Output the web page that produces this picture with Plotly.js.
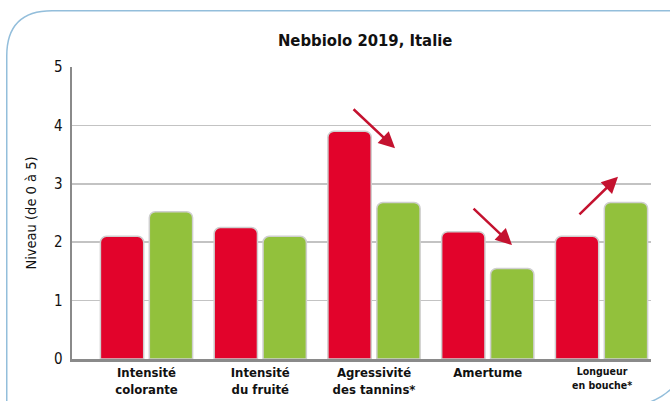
<!DOCTYPE html>
<html>
<head>
<meta charset="utf-8">
<script src="https://cdn.plot.ly/plotly-3.0.1.min.js"></script>
<style>
  html, body { margin: 0; padding: 0; background: #ffffff; overflow: hidden; }
  #chart { position: absolute; left: 0; top: 0; width: 670px; height: 401px; }
</style>
</head>
<body>
<div id="chart"></div>
<script>
const categories = [
  "<b>Intensité<br>colorante</b>",
  "<b>Intensité<br>du fruité</b>",
  "<b>Agressivité<br>des tannins*</b>",
  "<b>Amertume</b>",
  "<b>Longueur<br>en bouche*</b>"
];
const seriesRed = [2.1, 2.25, 3.9, 2.18, 2.1];
const seriesGreen = [2.52, 2.1, 2.68, 1.55, 2.68];
const yTicks = [0, 1, 2, 3, 4, 5];

const idx = categories.map((c, i) => i);
const FONT = "'Liberation Sans Narrow', 'DejaVu Sans Condensed', 'Arial Narrow', sans-serif";

const M = { l: 72, r: 19, t: 67, b: 42 };
const W = 670, H = 401;
const PW = W - M.l - M.r, PH = H - M.t - M.b;
// pixel -> paper helpers for the decorative page frame
const fx = (px) => ((px - M.l) / PW).toFixed(4);
const fy = (py) => (1 - (py - M.t) / PH).toFixed(4);

const framePath =
  'M ' + fx(6.75) + ',' + fy(420) +
  ' L ' + fx(6.75) + ',' + fy(56) +
  ' Q ' + fx(6.75) + ',' + fy(10.75) + ' ' + fx(52) + ',' + fy(10.75) +
  ' L ' + fx(700) + ',' + fy(10.75);
const cornerPath =
  'M ' + fx(640) + ',' + fy(405) +
  ' Q ' + fx(662) + ',' + fy(400) + ' ' + fx(676) + ',' + fy(384);

const barStyle = (color) => ({
  color: color,
  cornerradius: 6,
  line: { color: '#cfcfcf', width: 1.5 }
});

const traces = [
  { type: 'bar', x: idx, y: seriesRed, marker: barStyle('#e2032b'), hoverinfo: 'y', showlegend: false },
  { type: 'bar', x: idx, y: seriesGreen, marker: barStyle('#92c13c'), hoverinfo: 'y', showlegend: false }
];

const arrowColor = '#c4122f';
const arrows = [
  { tail: [1.807, 4.30], head: [2.185, 3.61] },
  { tail: [2.862, 2.60], head: [3.213, 1.95] },
  { tail: [3.793, 2.45], head: [4.145, 3.12] }
];

// the last category label is drawn smaller, as in the source
const lastIdx = categories.length - 1;
const tickText = categories.map((c, i) => i === lastIdx ? '' : c);

const annotations = arrows.map(a => ({
  x: a.head[0], y: a.head[1], ax: a.tail[0], ay: a.tail[1],
  xref: 'x', yref: 'y', axref: 'x', ayref: 'y',
  text: '', showarrow: true, arrowhead: 2, arrowsize: 1.3, arrowwidth: 2.5,
  arrowcolor: arrowColor
}));
annotations.push({
  x: lastIdx, y: 0, xref: 'x', yref: 'y', yshift: -4,
  xanchor: 'center', yanchor: 'top', showarrow: false,
  text: categories[lastIdx],
  font: { family: FONT, size: 10.5, color: '#111111' }
});

const layout = {
  width: W, height: H,
  margin: M,
  paper_bgcolor: '#ffffff',
  plot_bgcolor: 'rgba(0,0,0,0)',
  barmode: 'group',
  bargap: 0.14,
  bargroupgap: 0.115,
  font: { family: FONT, color: '#111111', size: 13 },
  title: {
    text: '<b>Nebbiolo 2019, Italie</b>',
    font: { family: FONT, size: 16.5, color: '#111111' },
    x: 0.545, xanchor: 'center', y: 0.9, yanchor: 'middle', yref: 'container'
  },
  xaxis: {
    range: [-0.655, 4.435],
    tickmode: 'array', tickvals: idx, ticktext: tickText,
    tickfont: { family: FONT, size: 13, color: '#111111' },
    showline: true, linecolor: '#8a8a8a', linewidth: 2.5,
    showgrid: false, zeroline: false, ticks: '', ticklen: 0
  },
  yaxis: {
    range: [0, 5],
    tickmode: 'array', tickvals: yTicks,
    tickfont: { family: FONT, size: 15, color: '#111111' },
    showline: true, linecolor: '#8a8a8a', linewidth: 2.5,
    showgrid: true, gridcolor: '#c3c3c3', gridwidth: 1.5,
    zeroline: false, ticks: '', ticklabelstandoff: 4,
    title: { text: 'Niveau (de 0 à 5)', font: { family: FONT, size: 14.5, color: '#111111' }, standoff: 14 }
  },
  shapes: [
    { type: 'path', xref: 'paper', yref: 'paper', path: framePath, layer: 'below',
      line: { color: '#93bedb', width: 1.5 } },
    { type: 'path', xref: 'paper', yref: 'paper', path: cornerPath, layer: 'below',
      line: { color: '#93bedb', width: 1.5 } }
  ],
  annotations: annotations
};

Plotly.newPlot('chart', traces, layout, { displayModeBar: false, staticPlot: true });
</script>
</body>
</html>
